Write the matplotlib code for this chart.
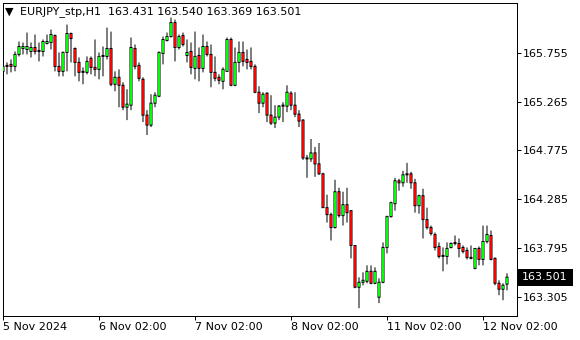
import numpy as np
import matplotlib
matplotlib.use("Agg")
import matplotlib.pyplot as plt
import matplotlib.patches as mpatches
import matplotlib.transforms as mtransforms

# ── DATA (EURJPY_stp H1) ────────────────────────────────────────────────────
SYMBOL = "EURJPY_stp,H1"

OPEN = [
    165.57, 165.62, 165.64, 165.62, 165.74, 165.80, 165.79, 165.77, 165.81, 165.77,
    165.77, 165.85, 165.86, 165.93, 165.62, 165.57, 165.76, 165.95, 165.80, 165.66,
    165.56, 165.56, 165.70, 165.61, 165.59, 165.72, 165.72, 165.80, 165.44, 165.51,
    165.43, 165.21, 165.23, 165.80, 165.63, 165.49, 165.13, 165.03, 165.25, 165.32,
    165.75, 165.88, 165.92, 166.06, 165.81, 165.93, 165.73, 165.77, 165.60, 165.73,
    165.60, 165.82, 165.74, 165.56, 165.51, 165.47, 165.57, 165.89, 165.43, 165.66,
    165.76, 165.69, 165.67, 165.62, 165.36, 165.25, 165.35, 165.13, 165.05, 165.11,
    165.22, 165.22, 165.35, 165.23, 165.14, 165.08, 164.70, 164.69, 164.75, 164.64,
    164.54, 164.20, 164.13, 164.00, 164.36, 164.12, 164.23, 164.17, 163.82, 163.40,
    163.45, 163.46, 163.56, 163.44, 163.30, 163.45, 163.80, 164.11, 164.24, 164.47,
    164.45, 164.53, 164.54, 164.45, 164.22, 164.32, 164.08, 164.00, 163.93, 163.81,
    163.72, 163.71, 163.80, 163.84, 163.84, 163.80, 163.77, 163.70, 163.59, 163.79,
    163.68, 163.86, 163.92, 163.69, 163.44, 163.38, 163.431,
]
HIGH = [
    165.76, 165.66, 165.69, 165.77, 165.87, 165.86, 165.96, 165.86, 165.94, 165.86,
    165.89, 165.94, 165.99, 165.94, 165.76, 165.77, 166.04, 165.96, 165.81, 165.71,
    165.61, 165.72, 165.72, 165.89, 165.76, 165.82, 166.01, 165.97, 165.57, 165.59,
    165.46, 165.39, 165.91, 165.84, 165.66, 165.51, 165.18, 165.34, 165.36, 165.77,
    165.92, 165.96, 166.11, 166.09, 165.94, 165.96, 165.89, 165.86, 165.97, 165.81,
    165.94, 165.87, 165.84, 165.72, 165.54, 165.61, 165.91, 165.91, 165.81, 165.87,
    165.87, 165.79, 165.81, 165.64, 165.42, 165.36, 165.36, 165.33, 165.23, 165.23,
    165.26, 165.43, 165.37, 165.36, 165.18, 165.09, 164.73, 164.89, 164.81, 164.85,
    164.55, 164.33, 164.15, 164.48, 164.40, 164.36, 164.40, 164.17, 163.82, 163.50,
    163.55, 163.62, 163.62, 163.60, 163.49, 163.85, 164.12, 164.26, 164.50, 164.49,
    164.57, 164.65, 164.56, 164.49, 164.33, 164.39, 164.20, 164.02, 163.95, 163.85,
    163.80, 163.85, 163.85, 163.92, 163.89, 163.82, 163.80, 163.82, 163.79, 163.81,
    164.02, 164.02, 163.97, 163.70, 163.47, 163.44, 163.540,
]
LOW = [
    165.41, 165.54, 165.56, 165.57, 165.72, 165.74, 165.74, 165.71, 165.74, 165.67,
    165.72, 165.84, 165.79, 165.57, 165.52, 165.52, 165.57, 165.66, 165.52, 165.47,
    165.44, 165.54, 165.54, 165.52, 165.49, 165.52, 165.69, 165.42, 165.37, 165.21,
    165.18, 165.08, 165.18, 165.59, 165.47, 165.06, 164.93, 165.01, 165.21, 165.31,
    165.64, 165.87, 165.91, 165.67, 165.79, 165.82, 165.66, 165.54, 165.49, 165.47,
    165.56, 165.72, 165.41, 165.47, 165.44, 165.39, 165.57, 165.42, 165.42, 165.56,
    165.62, 165.59, 165.59, 165.35, 165.15, 165.21, 165.06, 165.03, 165.00, 165.08,
    165.06, 165.16, 165.18, 165.11, 165.01, 164.68, 164.50, 164.66, 164.51, 164.53,
    164.20, 164.05, 163.87, 163.99, 164.10, 164.02, 164.05, 163.69, 163.39, 163.19,
    163.42, 163.44, 163.43, 163.43, 163.24, 163.44, 163.74, 164.10, 164.17, 164.37,
    164.41, 164.45, 164.39, 164.15, 164.14, 163.89, 163.98, 163.92, 163.77, 163.69,
    163.56, 163.63, 163.79, 163.82, 163.70, 163.74, 163.68, 163.68, 163.58, 163.62,
    163.62, 163.84, 163.67, 163.42, 163.32, 163.27, 163.369,
]
CLOSE = [
    165.62, 165.63, 165.62, 165.74, 165.82, 165.82, 165.82, 165.81, 165.77, 165.78,
    165.87, 165.87, 165.94, 165.62, 165.57, 165.76, 165.95, 165.90, 165.66, 165.56,
    165.57, 165.67, 165.61, 165.59, 165.72, 165.73, 165.80, 165.44, 165.51, 165.43,
    165.21, 165.24, 165.81, 165.62, 165.50, 165.13, 165.03, 165.25, 165.33, 165.76,
    165.89, 165.92, 166.06, 165.81, 165.92, 165.84, 165.76, 165.61, 165.72, 165.60,
    165.82, 165.74, 165.56, 165.50, 165.48, 165.59, 165.89, 165.43, 165.66, 165.76,
    165.67, 165.66, 165.62, 165.36, 165.25, 165.34, 165.13, 165.05, 165.11, 165.22,
    165.23, 165.36, 165.23, 165.14, 165.07, 164.70, 164.69, 164.75, 164.64, 164.54,
    164.20, 164.13, 164.00, 164.36, 164.12, 164.23, 164.15, 163.82, 163.40, 163.45,
    163.47, 163.56, 163.44, 163.56, 163.45, 163.80, 164.11, 164.25, 164.47, 164.45,
    164.53, 164.54, 164.45, 164.22, 164.32, 164.08, 164.00, 163.94, 163.80, 163.71,
    163.71, 163.79, 163.84, 163.85, 163.79, 163.76, 163.70, 163.69, 163.79, 163.68,
    163.86, 163.93, 163.68, 163.44, 163.38, 163.42, 163.501,
]

PRICE_TICKS = [165.755, 165.265, 164.775, 164.285, 163.795, 163.305]
TIME_TICK_BARS = [0, 24, 48, 72, 96, 120]
TIME_LABELS = ["5 Nov 2024", "6 Nov 02:00", "7 Nov 02:00",
               "8 Nov 02:00", "11 Nov 02:00", "12 Nov 02:00"]

# ── STYLE ───────────────────────────────────────────────────────────────────
W, H = 580, 340
UP_COLOR = "#00ff00"
DOWN_COLOR = "#ff0000"
LW = 0.72          # ~1 px at dpi 100
FONT = "DejaVu Sans"
plt.rcParams["font.family"] = [FONT]

Y_MIN, Y_MAX = 163.111, 166.257
PX = (Y_MAX - Y_MIN) / 313      # price per screen pixel
BAR = 0.25                      # one bar step = 4 px, so 1 px = 0.25


def px_box(x0, y0, x1, y1):
    """Figure-fraction rect from pixel coords (top-left origin)."""
    return [x0 / W, 1 - y1 / H, (x1 - x0) / W, (y1 - y0) / H]


def main():
    o = np.array(OPEN)
    h = np.array(HIGH)
    l = np.array(LOW)
    c = np.array(CLOSE)
    x = np.arange(len(o))

    fig = plt.figure(figsize=(W / 100, H / 100), dpi=100)
    ax = fig.add_axes(px_box(3, 3, 517, 316))

    # wicks
    wicks = ax.vlines(x, l, h, color="black", linewidth=LW, zorder=2)
    wicks.set_snap(False)

    # bodies: 3 px black block with a coloured core (MT4 look)
    up = c >= o
    colors = np.where(up, UP_COLOR, DOWN_COLOR)
    bottom = np.minimum(o, c)
    height = np.abs(c - o)
    outer = ax.bar(x, height + PX, width=3 * BAR, bottom=bottom - PX / 2,
                   color="black", linewidth=0, zorder=3)
    inner = ax.bar(x, np.maximum(height - PX, 0), width=2 * BAR,
                   bottom=bottom + PX / 2, color=colors, linewidth=0, zorder=4)
    for r in list(outer) + list(inner):
        r.set_snap(False)

    ax.set_xlim(0, 128.5)
    ax.set_ylim(Y_MIN, Y_MAX)

    # right price scale
    ax.yaxis.tick_right()
    ax.set_yticks(PRICE_TICKS)
    ax.set_yticklabels([f"{p:.3f}" for p in PRICE_TICKS])
    ax.tick_params(axis="y", direction="out", length=3, width=LW,
                   pad=1.5, labelsize=8, colors="black")

    # bottom time scale
    ax.set_xticks(TIME_TICK_BARS)
    ax.set_xticklabels(TIME_LABELS)
    ax.tick_params(axis="x", direction="out", length=3, width=LW,
                   pad=1.5, labelsize=8, colors="black")
    for lbl in ax.get_xticklabels():
        lbl.set_horizontalalignment("left")

    for sp in ax.spines.values():
        sp.set_linewidth(LW)
        sp.set_color("black")

    # last price marker on the scale
    last = CLOSE[-1]
    trans = mtransforms.blended_transform_factory(ax.transAxes, ax.transData)
    ax.add_patch(mpatches.Rectangle((1.0, last - 0.085), 56 / 514, 0.17,
                                    transform=trans, facecolor="black",
                                    edgecolor="none", clip_on=False, zorder=5))
    ax.text(1.0 + 5 / 514, last, f"{last:.3f}", transform=trans, color="white",
            fontsize=8, va="center", ha="left", clip_on=False, zorder=6)

    # header
    fig.text(5 / W, 1 - 12 / H, "\u25bc", fontsize=8, va="center", ha="left")
    fig.text(20 / W, 1 - 12 / H,
             f"{SYMBOL}  {OPEN[-1]:.3f} {HIGH[-1]:.3f} {LOW[-1]:.3f} {CLOSE[-1]:.3f}",
             fontsize=8, va="center", ha="left")

    fig.savefig("out.png", dpi=100, facecolor="white")


if __name__ == "__main__":
    main()
